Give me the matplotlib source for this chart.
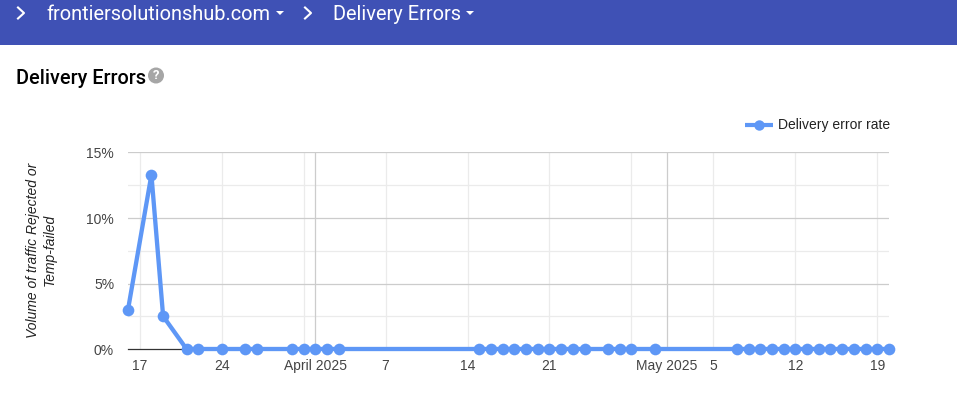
import matplotlib
matplotlib.use('Agg')
import pandas as pd
from matplotlib import pyplot as plt
from matplotlib.patches import Rectangle, Circle, Polygon
from matplotlib.lines import Line2D

W, H = 957, 419

# data
dates = ['2025-03-16', '2025-03-18', '2025-03-19', '2025-03-21', '2025-03-22', '2025-03-24',
         '2025-03-26', '2025-03-27', '2025-03-30', '2025-03-31', '2025-04-01', '2025-04-02',
         '2025-04-03', '2025-04-15', '2025-04-16', '2025-04-17', '2025-04-18', '2025-04-19',
         '2025-04-20', '2025-04-21', '2025-04-22', '2025-04-23', '2025-04-24', '2025-04-26',
         '2025-04-27', '2025-04-28', '2025-04-30', '2025-05-07', '2025-05-08', '2025-05-09',
         '2025-05-10', '2025-05-11', '2025-05-12', '2025-05-13', '2025-05-14', '2025-05-15',
         '2025-05-16', '2025-05-17', '2025-05-18', '2025-05-19', '2025-05-20']
rates = [3.0, 13.3, 2.5] + [0] * 38

week_dates = ['2025-03-17', '2025-03-24', '2025-03-31', '2025-04-07', '2025-04-14', '2025-04-21',
              '2025-04-28', '2025-05-05', '2025-05-12', '2025-05-19']
month_dates = ['2025-04-01', '2025-05-01']
tick_dates = ['2025-03-17', '2025-03-24', '2025-04-01', '2025-04-07', '2025-04-14', '2025-04-21',
              '2025-05-01', '2025-05-05', '2025-05-12', '2025-05-19']
tick_labels = ['17', '24', 'April 2025', '7', '14', '21', 'May 2025', '5', '12', '19']
y_major = [0, 5, 10, 15]
y_minor = [2.5, 7.5, 12.5]

BLUE = '#5e97f6'
SANS = 'Liberation Sans'

fig = plt.figure(figsize=(W / 100, H / 100), dpi=100, facecolor='white')

# page background layer, pixel coordinates
bg = fig.add_axes([0, 0, 1, 1])
bg.set_xlim(0, W)
bg.set_ylim(H, 0)
bg.axis('off')
bg.add_patch(Rectangle((0, 0), W, 45, color='#3f51b5', lw=0))
for x in (18, 305):
    bg.add_line(Line2D([x, x + 6, x], [7.5, 13, 18.5], color='white', lw=1.5))
for x in (276, 466):
    bg.add_patch(Polygon([(x, 11), (x + 8, 11), (x + 4, 15)], color='white', lw=0))
bg.text(46, 14.5, 'frontiersolutionshub.com', color='white', family='Roboto', fontsize=14.4, va='center')
bg.text(333, 14.5, 'Delivery Errors', color='white', family='Roboto', fontsize=14.4, va='center')
bg.text(16, 78.5, 'Delivery Errors', color='black', family='Roboto', fontsize=14.3, weight='medium', va='center')
bg.add_patch(Circle((156, 75.5), 8, color='#a6a6a6', lw=0))
bg.text(156, 75.5, '?', color='white', family='Roboto', fontsize=9.5, weight='bold', ha='center', va='center')

# legend
bg.add_line(Line2D([745, 773], [125, 125], color=BLUE, lw=3, solid_capstyle='butt'))
bg.add_line(Line2D([759], [125], color=BLUE, marker='o', ms=7.5, mew=0))
bg.text(778, 125, 'Delivery error rate', color='#222222', family=SANS, fontsize=10, va='center')

# y axis title
bg.text(41.5, 250, 'Volume of traffic Rejected or\nTemp-failed', color='#222222', family=SANS,
        fontsize=10, style='italic', rotation=90, ha='center', va='center', linespacing=1.25)

# chart
left, right, top, bottom = 128, 889, 152.5, 349
ax = fig.add_axes([left / W, 1 - bottom / H, (right - left) / W, (bottom - top) / H])
ax.patch.set_alpha(0)
x = pd.to_datetime(dates)
ax.set_xlim(pd.Timestamp('2025-03-16'), pd.Timestamp('2025-05-20'))
ax.set_ylim(0, 15)
for s in ax.spines.values():
    s.set_visible(False)

for d in week_dates:
    ax.axvline(pd.Timestamp(d), color='#ebebeb', lw=0.9, zorder=1)
for v in y_minor:
    ax.axhline(v, color='#ebebeb', lw=0.9, zorder=1)
for v in y_major[1:]:
    ax.axhline(v, color='#cccccc', lw=0.9, zorder=2)
for d in month_dates:
    ax.axvline(pd.Timestamp(d), color='#cccccc', lw=0.9, zorder=2)
ax.axhline(0, color='#333333', lw=0.9, zorder=3, clip_on=False)

ax.plot(x, rates, color=BLUE, lw=3.1, marker='o', ms=8.4, mew=0, clip_on=False, zorder=4)

ax.set_xticks(pd.to_datetime(tick_dates))
ax.set_xticklabels(tick_labels, family=SANS, fontsize=10, color='#444444')
ax.set_yticks(y_major)
ax.set_yticklabels([f'{v}%' for v in y_major], family=SANS, fontsize=10, color='#444444')
ax.tick_params(axis='both', length=0)
ax.tick_params(axis='x', pad=7.5)
ax.tick_params(axis='y', pad=10)

plt.savefig('out.png', dpi=100)
